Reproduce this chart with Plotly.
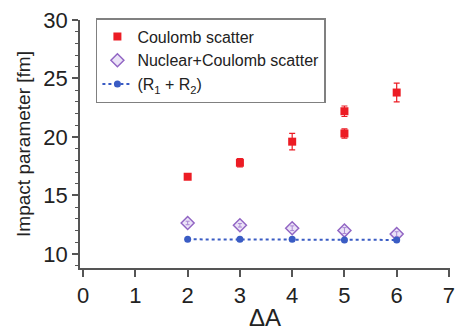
import plotly.graph_objects as go

# Data
coul_x = [2, 3, 4, 5, 5, 6]
coul_y = [16.6, 17.8, 19.6, 22.2, 20.3, 23.8]
coul_err = [0.2, 0.35, 0.7, 0.45, 0.4, 0.8]

nuc_x = [2, 3, 4, 5, 6]
nuc_y = [12.65, 12.45, 12.2, 12.0, 11.7]
nuc_err = [0.15, 0.15, 0.2, 0.25, 0.2]

rr_x = [2, 3, 4, 5, 6]
rr_y = [11.25, 11.25, 11.25, 11.2, 11.2]

x_ticks = [0, 1, 2, 3, 4, 5, 6, 7]
y_ticks = [10, 15, 20, 25, 30]

FONT = "Liberation Sans, Arial, sans-serif"

fig = go.Figure()
fig.add_trace(go.Scatter(
    x=coul_x, y=coul_y, mode="markers", name="Coulomb scatter",
    marker=dict(symbol="square", size=8, color="#ec1c24", line=dict(width=0)),
    error_y=dict(type="data", array=coul_err, color="#ec1c24", thickness=1.2, width=3),
))
fig.add_trace(go.Scatter(
    x=nuc_x, y=nuc_y, mode="markers", name="Nuclear+Coulomb scatter",
    marker=dict(symbol="diamond", size=10, color="rgba(205,185,235,0.4)",
                line=dict(width=1.5, color="#9266c4")),
    error_y=dict(type="data", array=nuc_err, color="#9266c4", thickness=1, width=2),
))
fig.add_trace(go.Scatter(
    x=rr_x, y=rr_y, mode="lines+markers", name="(R<sub>1</sub> + R<sub>2</sub>)",
    line=dict(color="#3a5cc4", width=2, dash="dot"),
    marker=dict(symbol="circle", size=7, color="#3a5cc4"),
))

fig.update_layout(
    width=461, height=334,
    margin=dict(l=80, r=6, t=20, b=66),
    paper_bgcolor="white", plot_bgcolor="white",
    font=dict(family=FONT, color="#222222"),
    showlegend=True,
    legend=dict(
        x=0.043, y=1.008, xanchor="left", yanchor="top",
        bordercolor="#808080", borderwidth=1.5, bgcolor="white",
        font=dict(size=16, family=FONT, color="#222222"),
        tracegroupgap=0, itemwidth=30,
    ),
    xaxis=dict(
        range=[-0.06, 7.02], tickvals=x_ticks, ticktext=[str(v) for v in x_ticks],
        showgrid=False, zeroline=False, showline=True, linecolor="#555555", linewidth=1.5,
        ticks="outside", ticklen=7, tickwidth=1.5, tickcolor="#555555",
        tickfont=dict(size=22, family=FONT, color="#222222"),
        title=dict(text="ΔA", font=dict(size=24, family=FONT, color="#222222"), standoff=2),
    ),
    yaxis=dict(
        range=[8.8, 30], tickvals=y_ticks, ticktext=[str(v) for v in y_ticks],
        showgrid=False, zeroline=False, showline=True, linecolor="#555555", linewidth=1.5,
        ticks="outside", ticklen=6, tickwidth=1.5, tickcolor="#555555",
        tickfont=dict(size=22, family=FONT, color="#222222"),
        minor=dict(dtick=1, tick0=0, ticks="outside", ticklen=3, tickcolor="#555555", tickwidth=1),
        title=dict(text="Impact parameter [fm]", font=dict(size=19, family=FONT, color="#222222"), standoff=8),
    ),
)

fig.write_html("out.html")
